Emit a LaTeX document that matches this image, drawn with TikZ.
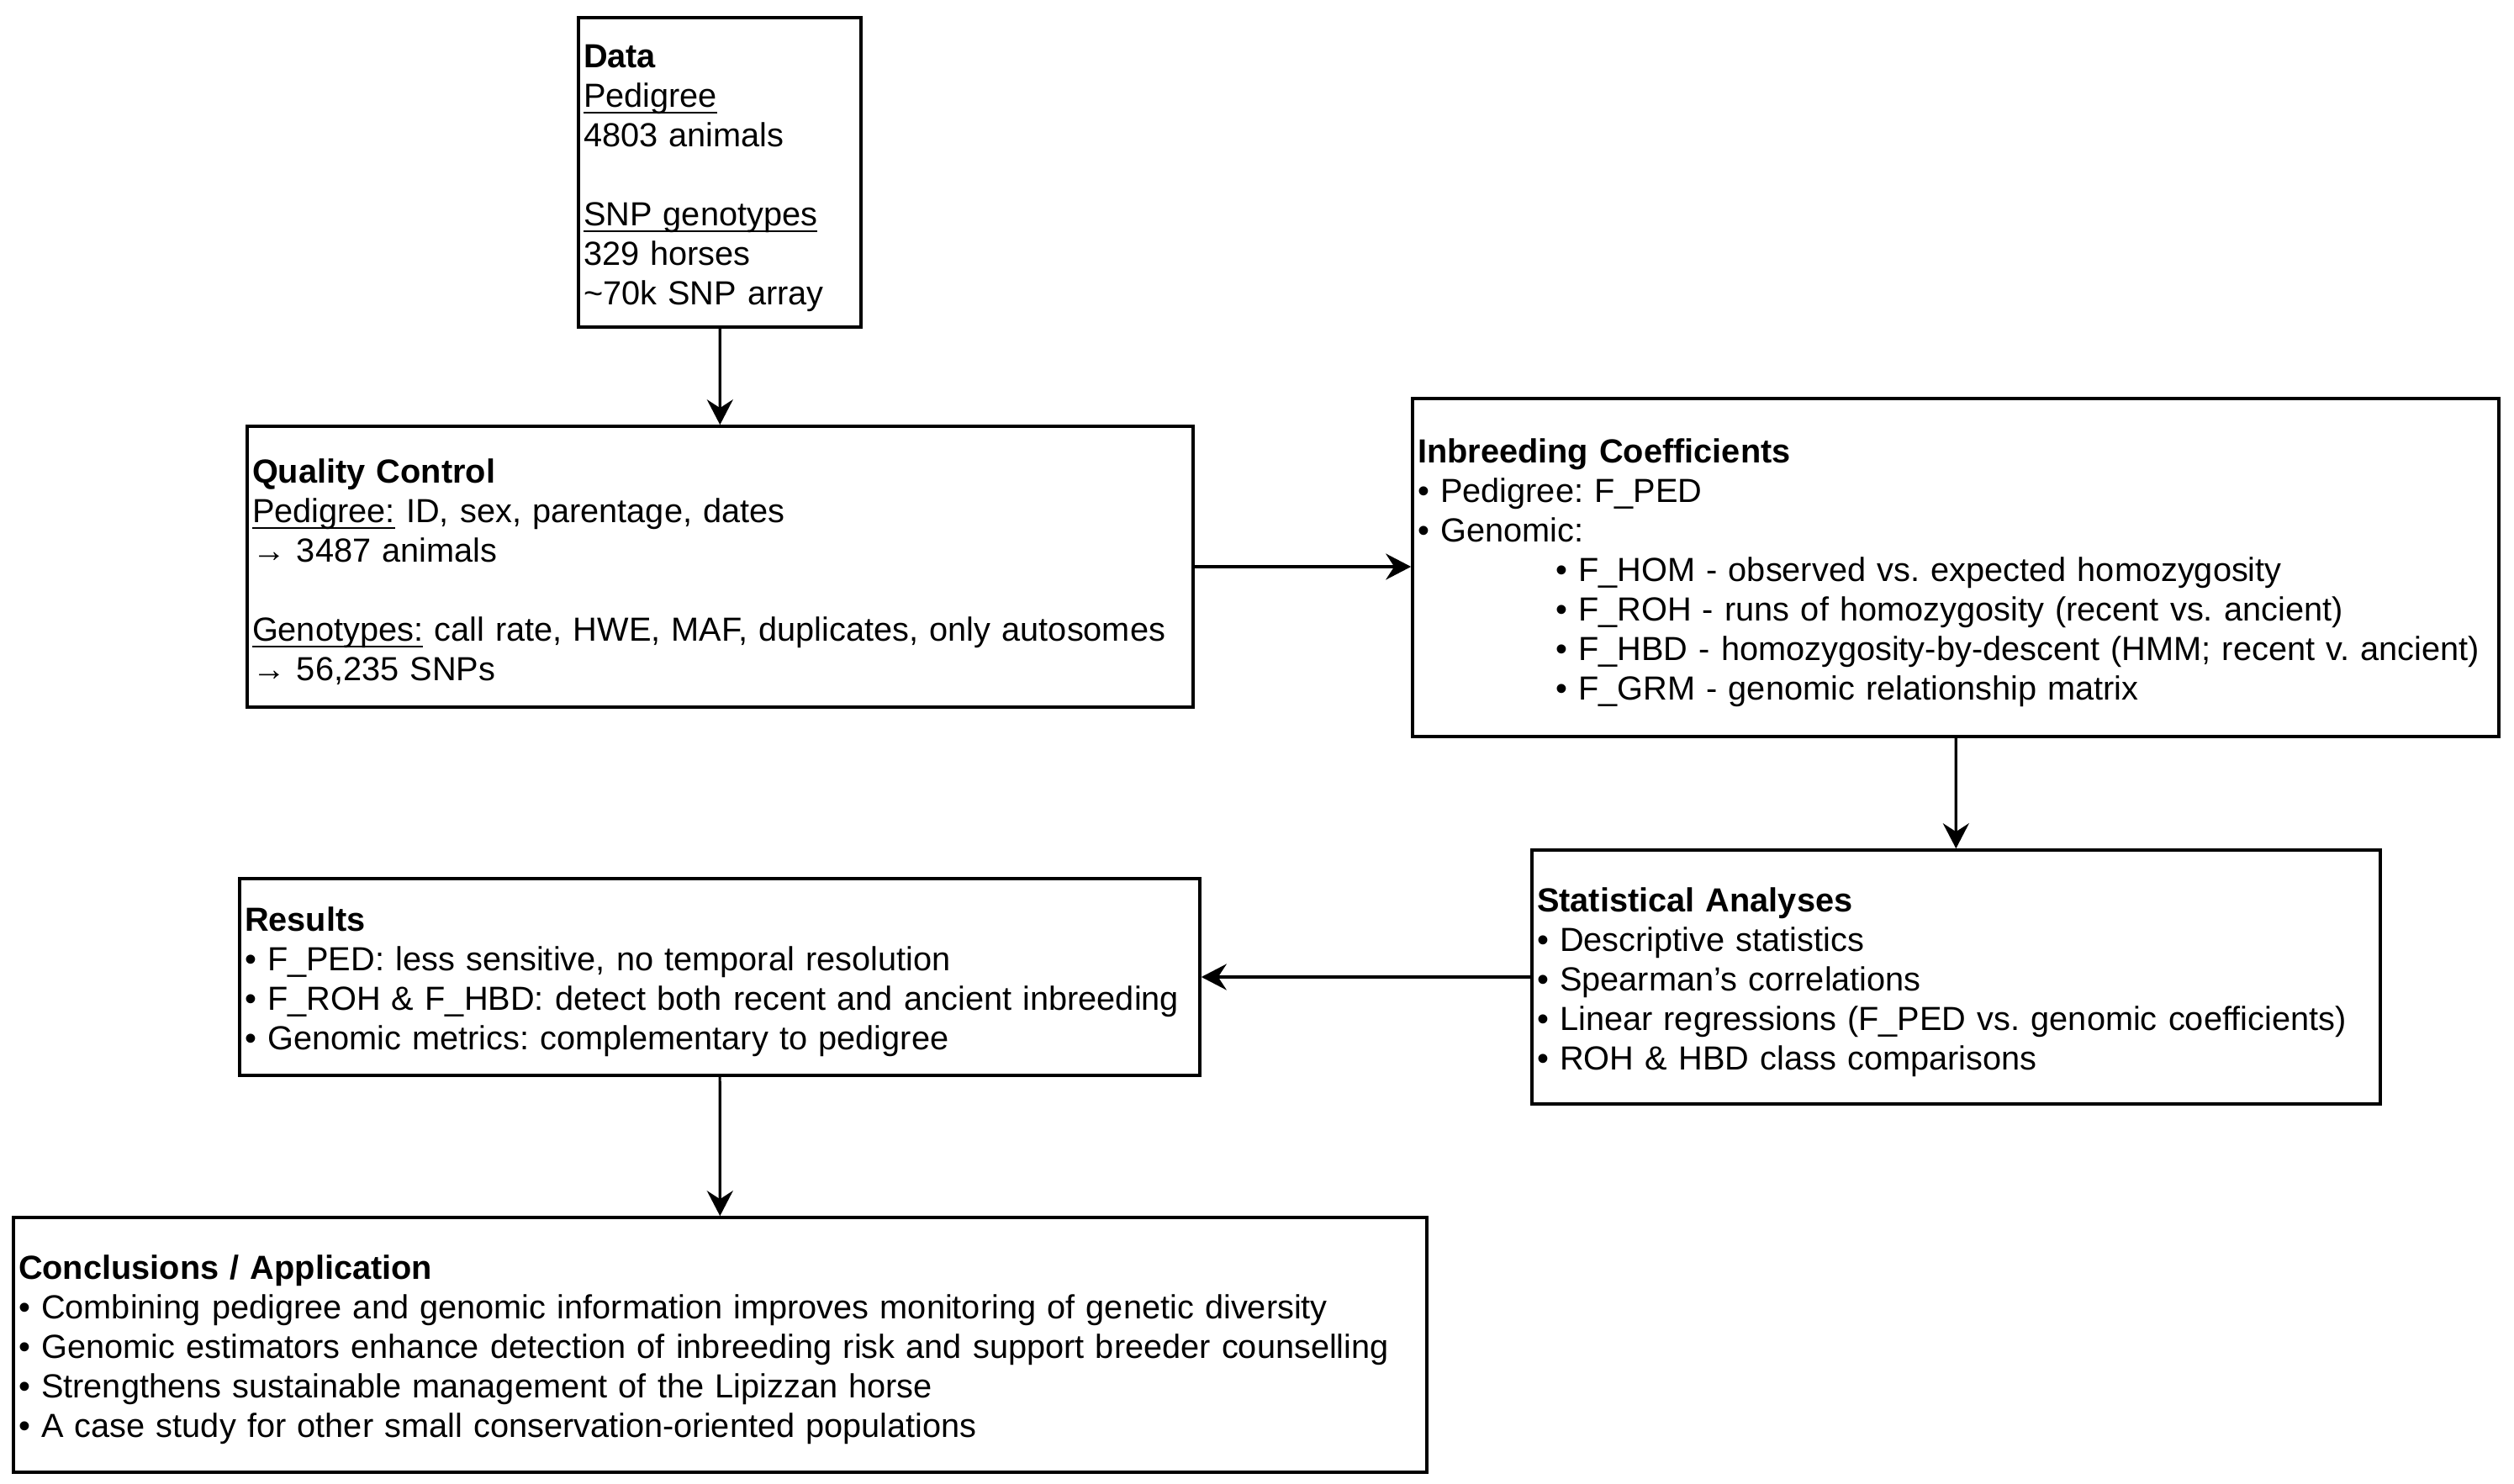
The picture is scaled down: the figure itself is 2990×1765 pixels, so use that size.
\documentclass[tikz,border=0pt]{standalone}
\usepackage{fontspec}
\setmainfont{Liberation Sans}
\usetikzlibrary{arrows.meta}
\frenchspacing
\newcommand\ulx[1]{\leavevmode\setbox0\hbox{#1}\rlap{\rule[-2pt]{\wd0}{0.5pt}}\box0\relax}
\newcommand\tp{\rule{0pt}{10.1pt}}
\begin{document}
\begin{tikzpicture}[x=0.25pt,y=-0.25pt,
  box/.style={draw, line width=0.9pt, align=left, inner xsep=1.5pt, inner ysep=0pt,
    font=\fontsize{9.93pt}{11.75pt}\selectfont, anchor=center},
  conn/.style={line width=0.8pt, -{Stealth[length=7.5pt,width=7.75pt,inset=2.5pt]}}]
\useasboundingbox (0,0) rectangle (2990,1765);
\node[box, minimum width=84pt, minimum height=92pt, text width=81pt] (data) at (856,205) {%
\tp\textbf{Data}\\
\ulx{Pedigree}\\
4803 animals\\[11.75pt]
\ulx{SNP genotypes}\\
329 horses\\
\textasciitilde70k SNP array};
\node[box, minimum width=281.25pt, minimum height=83.5pt, text width=278.25pt] (qc) at (856.5,674) {%
\tp\textbf{Quality Control}\\
\ulx{Pedigree:} ID, sex, parentage, dates\\
→ 3487 animals\\[11.75pt]
\ulx{Genotypes:} call rate, HWE, MAF, duplicates, only autosomes\\
→ 56,235 SNPs};
\node[box, minimum width=323pt, minimum height=100.5pt, text width=320pt] (inb) at (2326,675) {%
\tp\textbf{Inbreeding Coefficients}\\
• Pedigree: F\_PED\\
• Genomic:\\
\hspace*{41pt}• F\_HOM - observed vs. expected homozygosity\\
\hspace*{41pt}• F\_ROH - runs of homozygosity (recent vs. ancient)\\
\hspace*{41pt}• F\_HBD - homozygosity-by-descent (HMM; recent v. ancient)\\
\hspace*{41pt}• F\_GRM - genomic relationship matrix};
\node[box, minimum width=252.25pt, minimum height=75.5pt, text width=249.25pt] (stat) at (2326.5,1162) {%
\tp\textbf{Statistical Analyses}\\
• Descriptive statistics\\
• Spearman’s correlations\\
• Linear regressions (F\_PED vs. genomic coefficients)\\
• ROH \& HBD class comparisons};
\node[box, minimum width=285.5pt, minimum height=58.5pt, text width=282.5pt] (res) at (856,1162) {%
\tp\textbf{Results}\\
• F\_PED: less sensitive, no temporal resolution\\
• F\_ROH \& F\_HBD: detect both recent and ancient inbreeding\\
• Genomic metrics: complementary to pedigree};
\node[box, minimum width=420.25pt, minimum height=75.75pt, text width=417.25pt] (conc) at (856.5,1599.5) {%
\tp\textbf{Conclusions / Application}\\
• Combining pedigree and genomic information improves monitoring of genetic diversity\\
• Genomic estimators enhance detection of inbreeding risk and support breeder counselling\\
• Strengthens sustainable management of the Lipizzan horse\\
• A case study for other small conservation-oriented populations};
\draw[conn] (data) -- (qc);
\draw[conn] (qc.east) -- (qc.east -| inb.west);
\draw[conn] (inb) -- (stat);
\draw[conn] (stat.west) -- (stat.west -| res.east);
\draw[conn] (res) -- (conc);
\end{tikzpicture}
\end{document}
